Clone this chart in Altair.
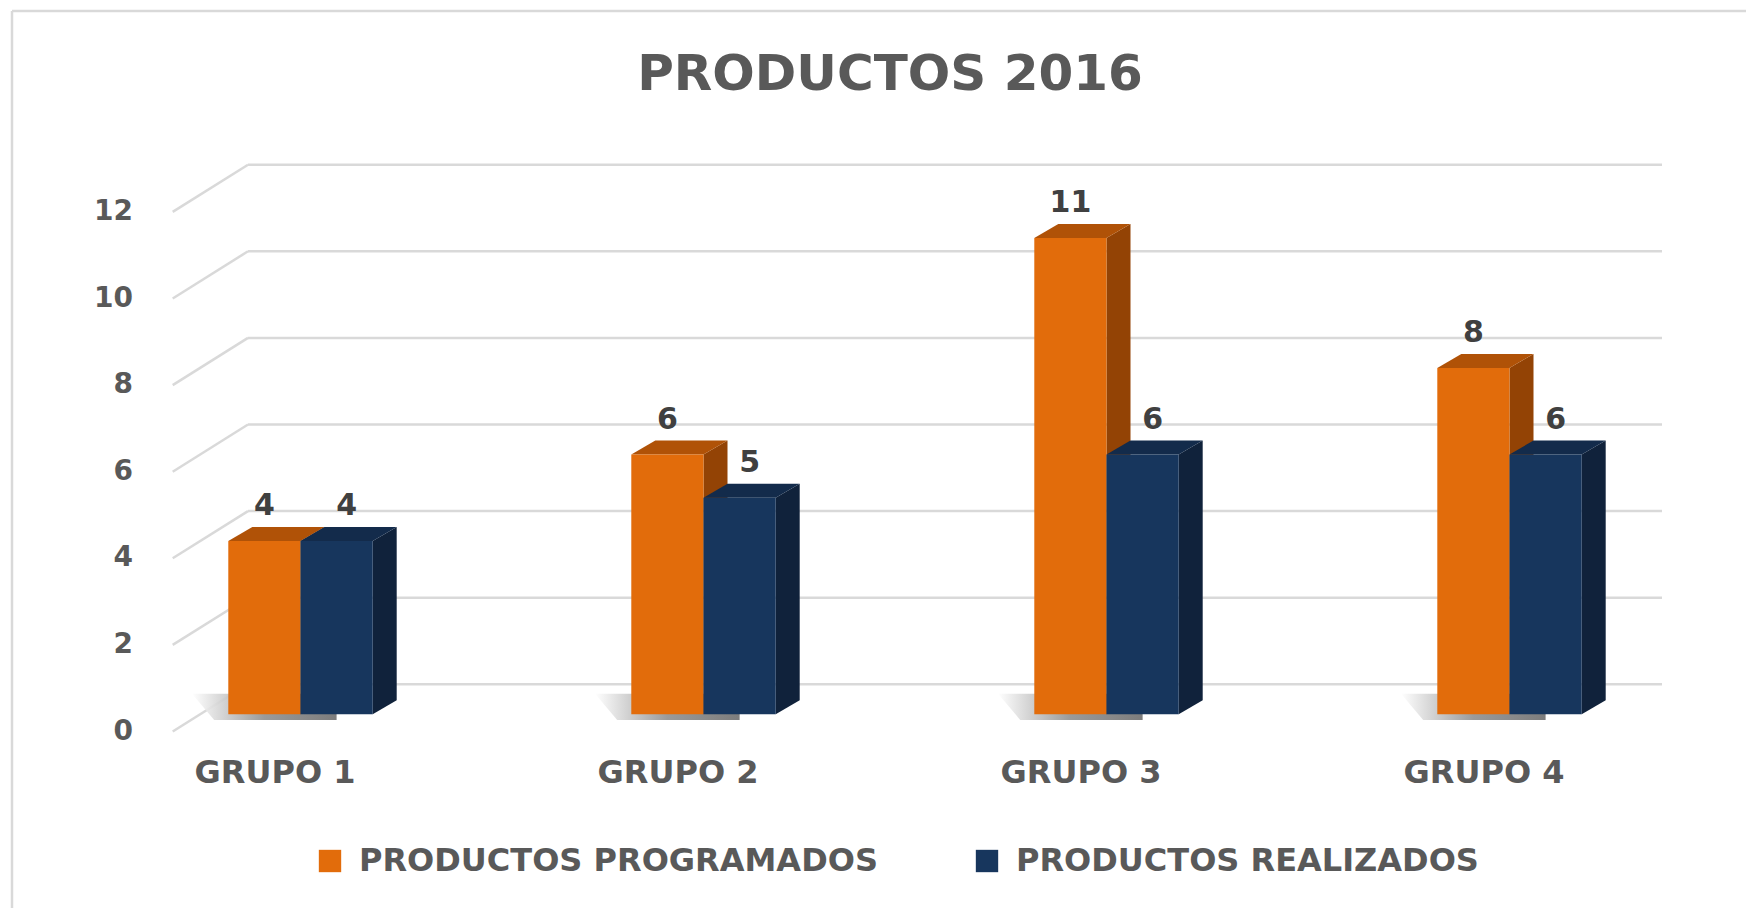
import altair as alt
import pandas as pd

# ---------------- data ----------------
categories = ["GRUPO 1", "GRUPO 2", "GRUPO 3", "GRUPO 4"]
series_names = ["PRODUCTOS PROGRAMADOS", "PRODUCTOS REALIZADOS"]
programados = [4, 6, 11, 8]
realizados = [4, 5, 6, 6]
y_ticks = [0, 2, 4, 6, 8, 10, 12]
title_text = "PRODUCTOS 2016"

# ---------------- styling / geometry (scale units) ----------------
W, H = 1746, 908
PX_X = 403.0           # pixels per category step
PX_Y = 43.3            # pixels per value unit
ORIGIN_X = 300.5       # pixel of category 0 centre (bar front plane)
ORIGIN_Y = 731.5       # pixel of value 0 on front edge
BAR_W = 72.2 / PX_X
FRONT_DV = 17.2 / PX_Y
DEPTH_DV = 14.0 / PX_Y
DEPTH_DX = 24.0 / PX_X
WALL_DV = 47.2 / PX_Y
FRONT_LEFT = (172.7 - ORIGIN_X) / PX_X
WALL_LEFT = (248.0 - ORIGIN_X) / PX_X
WALL_RIGHT = (1662.0 - ORIGIN_X) / PX_X
YLAB_X = (133.0 - ORIGIN_X) / PX_X
CATLAB_DX = (275.0 - ORIGIN_X) / PX_X
CATLAB_Y = (ORIGIN_Y - 773.0) / PX_Y
VLAB_DY = 52.0 / PX_Y

xs = alt.Scale(domain=[(0 - ORIGIN_X) / PX_X, (W - ORIGIN_X) / PX_X], nice=False, zero=False)
ys = alt.Scale(domain=[(ORIGIN_Y - H) / PX_Y, ORIGIN_Y / PX_Y], nice=False, zero=False)

FRONT = {"PRODUCTOS PROGRAMADOS": "#E26C0B", "PRODUCTOS REALIZADOS": "#17365D"}
TOP = {"PRODUCTOS PROGRAMADOS": "#B05207", "PRODUCTOS REALIZADOS": "#132B4B"}
SIDE = {"PRODUCTOS PROGRAMADOS": "#934305", "PRODUCTOS REALIZADOS": "#10223B"}
TXT = "#595959"
GRID = "#D9D9D9"
FONT = "DejaVu Sans"


def X(f):
    return alt.X(f, type="quantitative", scale=xs, axis=None)


def Y(f):
    return alt.Y(f, type="quantitative", scale=ys, axis=None)


# ---------------- derived tables ----------------
front_rows, top_rows, side_rows, shadow_rows, lab_rows = [], [], [], [], []
for i, cat in enumerate(categories):
    for s, (name, vals) in enumerate(zip(series_names, [programados, realizados])):
        v = vals[i]
        x0 = i - BAR_W if s == 0 else i
        x1 = x0 + BAR_W
        bid = f"{cat}-{s}"
        front_rows.append(dict(bid=bid, series=name, x0=x0, x1=x1, yt=v + FRONT_DV, yb=FRONT_DV))
        top_rows.append(dict(bid=bid, series=name, y=v + FRONT_DV, xa=x0, xb=x1))
        top_rows.append(dict(bid=bid, series=name, y=v + FRONT_DV + DEPTH_DV, xa=x0 + DEPTH_DX, xb=x1 + DEPTH_DX))
        side_rows.append(dict(bid=bid, series=name, x=x1, ya=v + FRONT_DV, yb=FRONT_DV))
        side_rows.append(dict(bid=bid, series=name, x=x1 + DEPTH_DX, ya=v + FRONT_DV + DEPTH_DV, yb=FRONT_DV + DEPTH_DV))
        lab_rows.append(dict(series=name, x=(x0 + x1) / 2 + (0.025 if s == 1 else 0), y=v + VLAB_DY, label=str(v)))
    # floor shadow (left of each group)
    shadow_rows.append(dict(g=cat, y=FRONT_DV - 0.13, xa=i - BAR_W - 0.035, xb=i + BAR_W * 0.5))
    shadow_rows.append(dict(g=cat, y=FRONT_DV + DEPTH_DV + 0.15, xa=i - BAR_W - 0.09, xb=i + BAR_W * 0.5))

front_df = pd.DataFrame(front_rows)
top_df = pd.DataFrame(top_rows)
side_df = pd.DataFrame(side_rows)
shadow_df = pd.DataFrame(shadow_rows)
lab_df = pd.DataFrame(lab_rows)

wall_df = pd.DataFrame({"v": y_ticks})
wall_df["yw"] = wall_df["v"] + WALL_DV
wall_df["xl"] = WALL_LEFT
wall_df["xr"] = WALL_RIGHT
wall_df["xf"] = FRONT_LEFT
wall_df["ylab_x"] = YLAB_X

cat_df = pd.DataFrame({"cat": categories, "x": [i + CATLAB_DX for i in range(len(categories))], "y": CATLAB_Y})

# ---------------- layers ----------------
wall_lines = alt.Chart(wall_df).mark_rule(color=GRID, strokeWidth=2.5).encode(
    x=X("xl"), x2="xr", y=Y("yw"))
diag_lines = alt.Chart(wall_df).mark_rule(color=GRID, strokeWidth=2.5).encode(
    x=X("xf"), x2="xl", y=Y("v"), y2="yw")

shadow = alt.Chart(shadow_df).mark_area(
    orient="horizontal",
    color=alt.Gradient(
        gradient="linear", x1=0, x2=1, y1=0, y2=0,
        stops=[alt.GradientStop(color="#ffffff", offset=0),
               alt.GradientStop(color="#8f8f8f", offset=0.5),
               alt.GradientStop(color="#6e6e6e", offset=1)]),
    opacity=0.9,
).encode(y=Y("y"), x=X("xa"), x2="xb", detail="g:N")

sides = alt.Chart(side_df).mark_area(orient="vertical").encode(
    x=X("x"), y=Y("ya"), y2="yb", detail="bid:N",
    color=alt.Color("series:N", scale=alt.Scale(domain=series_names, range=[SIDE[n] for n in series_names]), legend=None))
tops = alt.Chart(top_df).mark_area(orient="horizontal").encode(
    y=Y("y"), x=X("xa"), x2="xb", detail="bid:N",
    color=alt.Color("series:N", scale=alt.Scale(domain=series_names, range=[TOP[n] for n in series_names]), legend=None))

fronts = alt.Chart(front_df).mark_bar(stroke=None).encode(
    x=X("x0"), x2="x1", y=Y("yt"), y2="yb",
    color=alt.Color("series:N",
                    scale=alt.Scale(domain=series_names, range=[FRONT[n] for n in series_names]),
                    legend=alt.Legend(
                        title=None, orient="none", direction="horizontal",
                        legendX=314, legendY=845, symbolType="square", symbolSize=500,
                        symbolStrokeWidth=0, labelFont=FONT, labelFontWeight="bold",
                        labelFontSize=32, labelColor=TXT, labelOffset=13, labelLimit=900,
                        columnPadding=93, padding=0)))

value_labels = alt.Chart(lab_df).mark_text(
    font=FONT, fontWeight="bold", fontSize=30, color="#404040", baseline="middle", align="center"
).encode(x=X("x"), y=Y("y"), text="label:N")

y_labels = alt.Chart(wall_df).mark_text(
    font=FONT, fontWeight="bold", fontSize=28, color=TXT, baseline="middle", align="right"
).encode(x=X("ylab_x"), y=Y("v"), text="v:Q")

cat_labels = alt.Chart(cat_df).mark_text(
    font=FONT, fontWeight="bold", fontSize=32, color=TXT, baseline="middle", align="center"
).encode(x=X("x"), y=Y("y"), text="cat:N")

title = alt.Chart(pd.DataFrame({"t": [title_text]})).mark_text(
    font=FONT, fontWeight="bold", fontSize=50, color=TXT, baseline="middle", align="center"
).encode(x=alt.value(890), y=alt.value(75), text="t:N")

frame_left = alt.Chart(pd.DataFrame({"a": [0]})).mark_rule(color=GRID, strokeWidth=2.5).encode(
    x=alt.value(12), y=alt.value(11), y2=alt.value(H))
frame_top = alt.Chart(pd.DataFrame({"a": [0]})).mark_rule(color=GRID, strokeWidth=2.5).encode(
    x=alt.value(12), x2=alt.value(W), y=alt.value(11))

chart = alt.layer(
    frame_left, frame_top, wall_lines, diag_lines, shadow, sides, tops, fronts,
    value_labels, y_labels, cat_labels, title
).resolve_scale(color="independent").properties(
    width=W, height=H, autosize=alt.AutoSizeParams(type="none"), padding=0, background="white"
).configure_view(stroke=None)

chart.save("out.html", embed_options={"renderer": "svg", "actions": False})
